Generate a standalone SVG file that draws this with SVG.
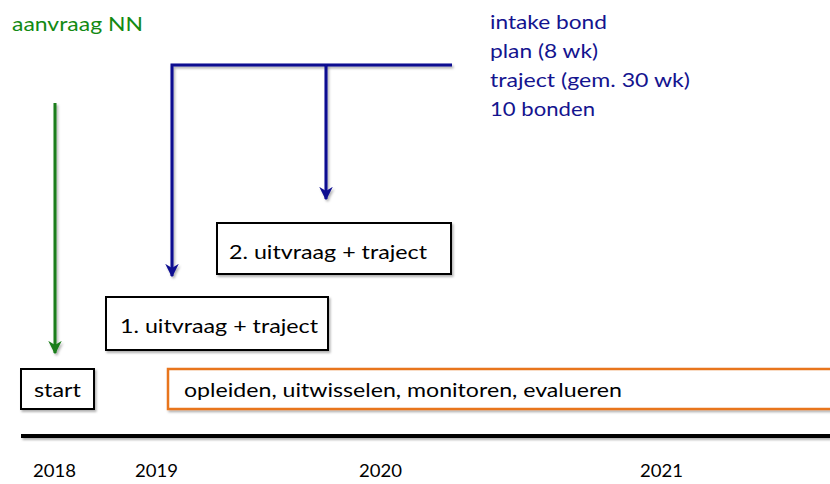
<svg xmlns="http://www.w3.org/2000/svg" width="830" height="484" viewBox="0 0 830 484">
  <style>
    text { font-family: Lato, "Liberation Sans", sans-serif; }
    .lbl { font-size: 20px; fill: #000; }
    .green { font-size: 20px; fill: #138a13; }
    .blue { font-size: 20px; fill: #14148f; }
    .year { font-size: 18px; fill: #000; }
    .box { fill: #fff; stroke: #000; stroke-width: 2; filter: url(#shadow); }
    .obox { fill: #fff; stroke: #e8751a; stroke-width: 2.5; filter: url(#shadow); }
    .bline { fill: none; stroke: #0c0c90; stroke-width: 3; filter: url(#shadow); }
    .gline { fill: none; stroke: #1a7d1a; stroke-width: 3; filter: url(#shadow); }
  </style>
  <defs>
    <filter id="shadow" filterUnits="userSpaceOnUse" x="0" y="0" width="830" height="484">
      <feDropShadow dx="1.5" dy="2" stdDeviation="1.2" flood-color="#000" flood-opacity="0.3"/>
    </filter>
    <marker id="arrowBlue" viewBox="0 0 10 10" refX="9" refY="5" markerWidth="4.5" markerHeight="4.5" orient="auto" markerUnits="strokeWidth">
      <path d="M0,0 L10,5 L0,10 L3,5 z" fill="#0c0c90"/>
    </marker>
    <marker id="arrowGreen" viewBox="0 0 10 10" refX="9" refY="5" markerWidth="4.5" markerHeight="4.5" orient="auto" markerUnits="strokeWidth">
      <path d="M0,0 L10,5 L0,10 L3,5 z" fill="#1a7d1a"/>
    </marker>
  </defs>

  <!-- connectors -->
  <g id="connectors">
    <path class="bline" d="M452,65 L172,65 L172,276" marker-end="url(#arrowBlue)"/>
    <path class="bline" d="M326,65 L326,199" marker-end="url(#arrowBlue)"/>
    <path class="gline" d="M55,103 L55,353" marker-end="url(#arrowGreen)"/>
    <line x1="21" y1="436" x2="830" y2="436" stroke="#000" stroke-width="4" filter="url(#shadow)"/>
  </g>

  <g id="aanvraag">
    <text class="green" x="12" y="31" textLength="131" lengthAdjust="spacingAndGlyphs">aanvraag NN</text>
  </g>

  <g id="fasen">
    <text class="blue" x="490" y="29" textLength="117" lengthAdjust="spacingAndGlyphs">intake bond</text>
    <text class="blue" x="490" y="58" textLength="108" lengthAdjust="spacingAndGlyphs">plan (8 wk)</text>
    <text class="blue" x="490" y="87" textLength="200" lengthAdjust="spacingAndGlyphs">traject (gem. 30 wk)</text>
    <text class="blue" x="490" y="116" textLength="105" lengthAdjust="spacingAndGlyphs">10 bonden</text>
  </g>

  <g id="uitvraag2">
    <rect class="box" x="217" y="223" width="234" height="51"/>
    <text class="lbl" x="229" y="259" textLength="198" lengthAdjust="spacingAndGlyphs">2. uitvraag + traject</text>
  </g>

  <g id="uitvraag1">
    <rect class="box" x="106" y="297" width="222" height="53"/>
    <text class="lbl" x="120" y="333" textLength="198" lengthAdjust="spacingAndGlyphs">1. uitvraag + traject</text>
  </g>

  <g id="start">
    <rect class="box" x="21" y="369" width="73" height="40"/>
    <text class="lbl" x="34" y="397" textLength="47" lengthAdjust="spacingAndGlyphs">start</text>
  </g>

  <g id="activiteiten">
    <rect class="obox" x="168" y="369" width="680" height="40"/>
    <text class="lbl" x="184" y="397" textLength="438" lengthAdjust="spacingAndGlyphs">opleiden, uitwisselen, monitoren, evalueren</text>
  </g>

  <g id="jaren">
    <text class="year" x="33" y="477" textLength="43" lengthAdjust="spacingAndGlyphs">2018</text>
    <text class="year" x="135" y="477" textLength="43" lengthAdjust="spacingAndGlyphs">2019</text>
    <text class="year" x="359" y="477" textLength="43" lengthAdjust="spacingAndGlyphs">2020</text>
    <text class="year" x="640" y="477" textLength="43" lengthAdjust="spacingAndGlyphs">2021</text>
  </g>
</svg>
